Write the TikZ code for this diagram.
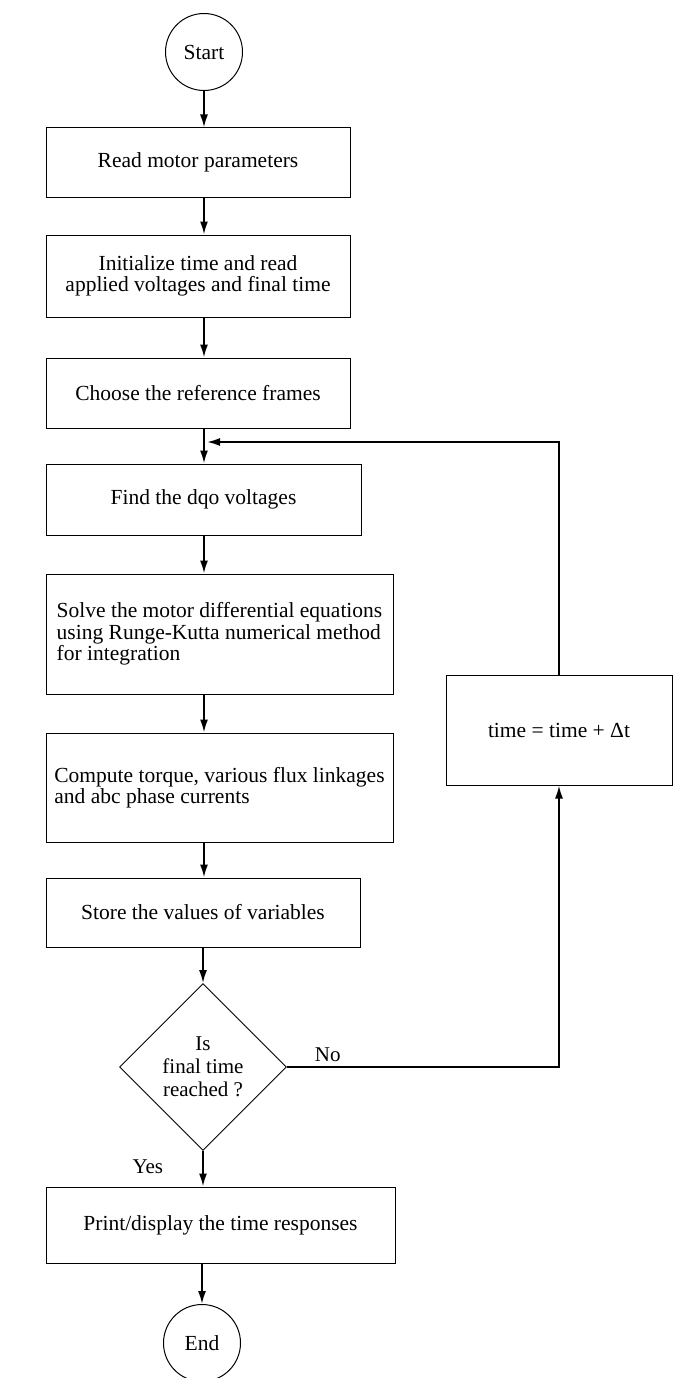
\documentclass[tikz,border=0pt]{standalone}
\usepackage{fontspec}
\setmainfont{Liberation Serif}
\usetikzlibrary{arrows.meta,shapes.geometric,positioning}

\begin{document}
\begin{tikzpicture}[
		x=1pt, y=-1pt,
		proc/.style={
			draw,
			line width=1pt,
			align=center,
			inner sep=0pt,
			font=\fontsize{21.5}{21.5}\selectfont
		},
		term/.style={
			draw,
			circle,
			line width=1pt,
			minimum size=77pt,
			inner sep=0pt,
			font=\fontsize{21.5}{21.5}\selectfont
		},
		test/.style={
			draw,
			diamond,
			line width=0.9pt,
			minimum width=167pt,
			minimum height=167pt,
			inner sep=0pt,
			align=center,
			font=\fontsize{21}{23}\selectfont
		},
		tag/.style={font=\fontsize{21}{21}\selectfont, inner sep=1pt},
		flow/.style={->, line width=1.8pt},
		>={Latex[length=13pt,width=8pt]}
		]
		
		\useasboundingbox (0,0) rectangle (677,1378);
		
		% main column
		\node[term] (start) at (204,52) {Start};
		
		\node[proc, minimum width=304pt, minimum height=69pt] (read) at (198,162.5)
		{Read motor parameters};
		
		\node[proc, minimum width=304pt, minimum height=82pt] (init) at (198,276)
		{Initialize time and read\\applied voltages and final time};
		
		\node[proc, minimum width=304pt, minimum height=70pt] (frames) at (198,393)
		{Choose the reference frames};
		
		\node[proc, minimum width=315pt, minimum height=71pt] (dqo) at (203.5,499.5)
		{Find the dqo voltages};
		
		\node[proc, align=left, minimum width=347pt, minimum height=120pt] (solve) at (219.5,634)
		{Solve the motor differential equations\\using Runge-Kutta numerical method\\for integration};
		
		\node[proc, align=left, minimum width=347pt, minimum height=109pt] (torque) at (219.5,787.5)
		{Compute torque, various flux linkages\\and abc phase currents};
		
		\node[proc, minimum width=314pt, minimum height=69pt] (store) at (203,912.5)
		{Store the values of variables};
		
		\node[test] (final) at (203,1067) {Is\\final time\\reached ?};
		
		\node[proc, minimum width=349pt, minimum height=76pt] (print) at (220.5,1225)
		{Print/display the time responses};
		
		\node[term] (end) at (202,1343) {End};
		
		% loop back
		\node[proc, minimum width=226pt, minimum height=110pt] (step) at (559,730)
		{time = time + Δt};
		
		\coordinate (join) at (204,442);
		
		\draw[flow] (start) -- (start |- read.north);
		\draw[flow] (read.south -| start) -- (init.north -| start);
		\draw[flow] (init.south -| start) -- (frames.north -| start);
		\draw[flow] (frames.south -| start) -- (dqo.north -| start);
		\draw[flow] (dqo.south -| start) -- (solve.north -| start);
		\draw[flow] (solve.south -| start) -- (torque.north -| start);
		\draw[flow] (torque.south -| start) -- (store.north -| start);
		\draw[flow] (store.south -| final) -- (final.north);
		\draw[flow] (final.south) -- node[tag, pos=0.45, left=38pt] {Yes} (print.north -| final);
		\draw[flow] (print.south -| end) -- (end.north);
		
		\draw[flow] (final.east) -| node[tag, pos=0.075, above=3pt] {No} (step.south);
		\draw[flow, shorten >=3pt] (step.north) |- (join);
		
	\end{tikzpicture}
\end{document}
